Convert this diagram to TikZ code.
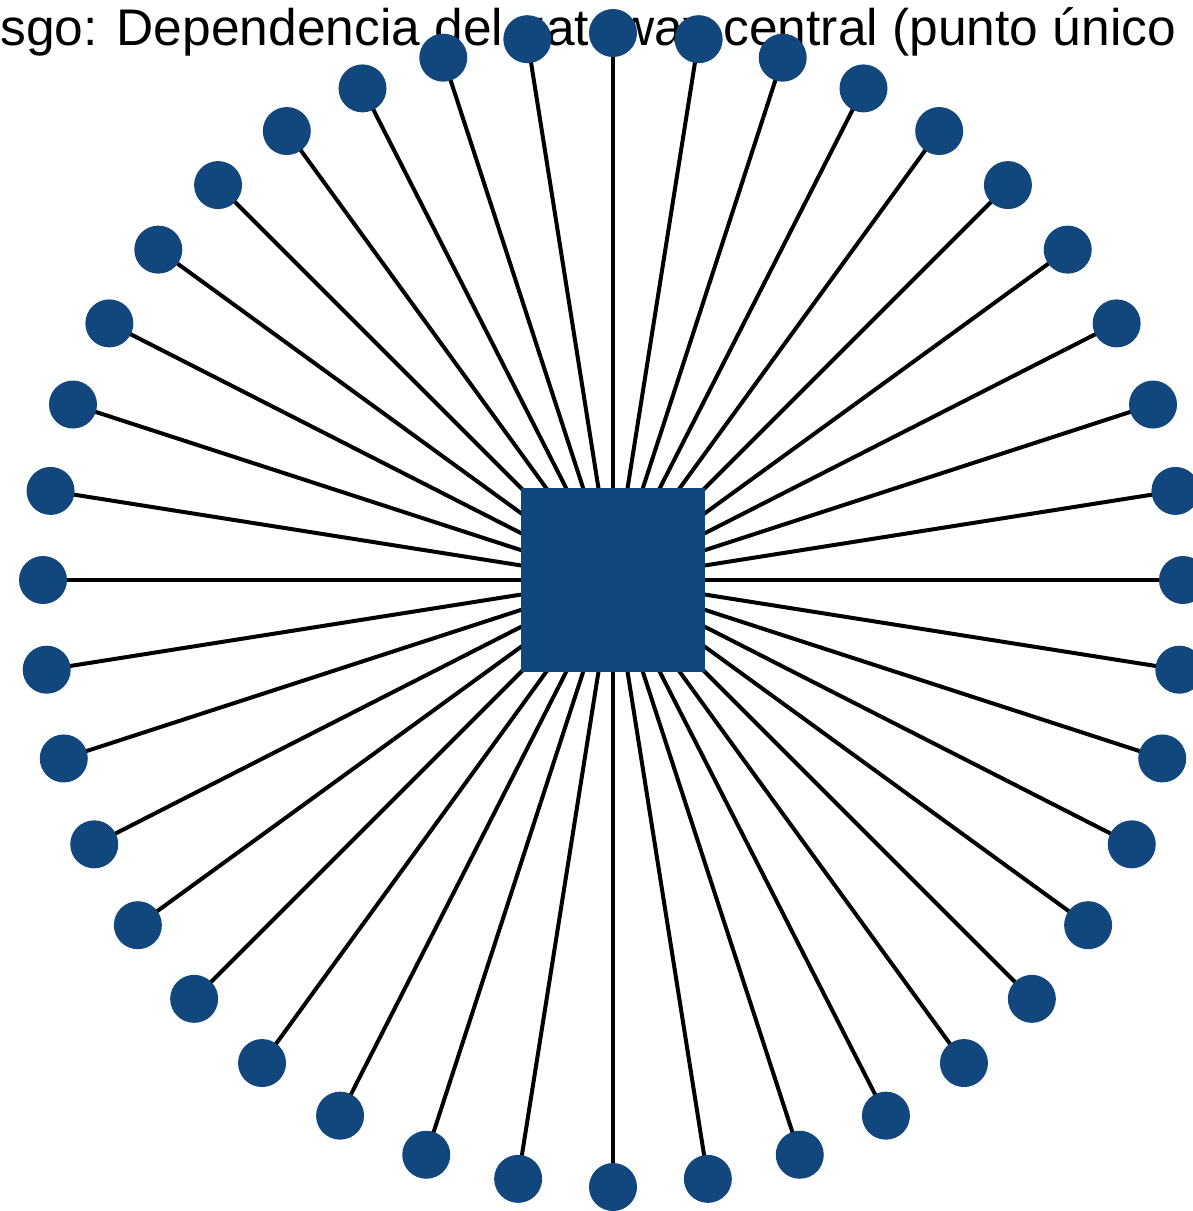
\documentclass[tikz,border=0pt]{standalone}
\usepackage{fontspec}
\setmainfont{Liberation Sans}
\definecolor{gwblue}{HTML}{12477E}
\pgfdeclarelayer{bg}
\pgfsetlayers{bg,main}
\begin{document}
\begin{tikzpicture}[x=0.5pt,y=-0.5pt,
  hubbox/.style={rectangle,fill=gwblue,draw=none,minimum size=92pt,inner sep=0pt},
  satnode/.style={circle,fill=gwblue,draw=none,minimum size=24pt,inner sep=0pt},
  conn/.style={draw=black,line width=2pt},
  titletext/.style={anchor=base west,inner sep=0pt,font=\fontsize{25.75pt}{30pt}\selectfont}]
\clip (0,0) rectangle (1193,1211);
\node[titletext] (title) at (0,45) {sgo: Dependencia del gateway central (punto único};
\node[hubbox] (hub) at (613,580) {};
\foreach \i in {0,...,39} {
  \pgfmathsetmacro\ang{\i*9}
  \pgfmathsetmacro\s{sin(\ang)}
  \pgfmathsetmacro\c{cos(\ang)}
  \pgfmathsetmacro\rr{\s>0 ? 570-23*\s*\s : 570+37*(0.5*abs(\s)+0.5*\s*\s)}
  \pgfmathsetmacro\px{613+\rr*\c}
  \pgfmathsetmacro\py{580-\rr*\s}
  \node[satnode] (s\i) at (\px,\py) {};
  \begin{pgfonlayer}{bg}
    \draw[conn] (hub.center) -- (s\i.center);
  \end{pgfonlayer}
}
\end{tikzpicture}
\end{document}
